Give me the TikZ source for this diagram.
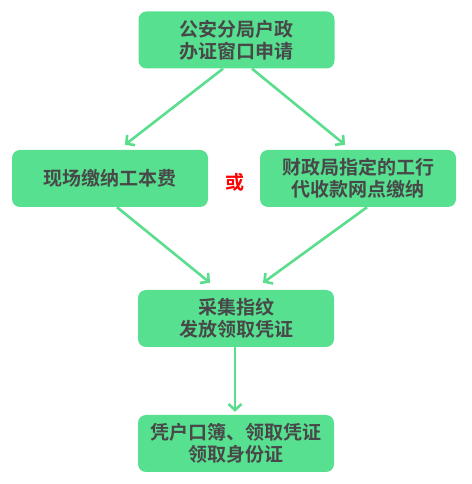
\documentclass[tikz,border=0pt]{standalone}
\usepackage{fontspec}
\newfontfamily\cjk{Noto Sans CJK SC}[BoldFont={Noto Sans CJK SC Bold}]
\usetikzlibrary{arrows.meta}

\definecolor{boxgreen}{RGB}{86,224,144}
\definecolor{linegreen}{RGB}{90,222,142}
\definecolor{textgray}{RGB}{72,72,72}

\tikzset{
	stepbox/.style={fill=boxgreen, rounded corners=8pt, minimum width=196pt, minimum height=57pt,
		align=center, text=textgray, font=\cjk\bfseries\fontsize{19}{22}\selectfont},
	flow/.style={draw=linegreen, line width=2.6pt, -{Straight Barb[length=6pt,width=13pt,line width=2.6pt]}}
}

\begin{document}
\begin{tikzpicture}[x=1pt,y=1pt]
	\useasboundingbox (0,0) rectangle (471,484);

	% Boxes
	\node[stepbox] (apply) at (236.5,444) {公安分局户政\\办证窗口申请};
	\node[stepbox] (payhere) at (110,305.5) {现场缴纳工本费};
	\node[stepbox] (paybank) at (358,305.5) {财政局指定的工行\\代收款网点缴纳};
	\node[stepbox] (finger) at (236,165.5) {采集指纹\\发放领取凭证};
	\node[stepbox] (collect) at (236,40.5) {凭户口簿、领取凭证\\领取身份证};

	% Or
	\node[text=red, font=\cjk\bfseries\fontsize{19}{22}\selectfont] (orsign) at (235,302) {或};

	% Arrows
	\draw[flow] ([xshift=-13.5pt]apply.south) -- ([xshift=15pt,yshift=5pt]payhere.north);
	\draw[flow] ([xshift=15.5pt]apply.south) -- ([xshift=-13pt,yshift=5pt]paybank.north);
	\draw[flow] ([xshift=7pt]payhere.south) -- ([xshift=-26pt,yshift=7pt]finger.north);
	\draw[flow] ([xshift=9pt]paybank.south) -- ([xshift=27pt,yshift=7pt]finger.north);
	\draw[flow] ([xshift=-1pt]finger.south) -- ([xshift=-1pt,yshift=3pt]collect.north);

\end{tikzpicture}
\end{document}
